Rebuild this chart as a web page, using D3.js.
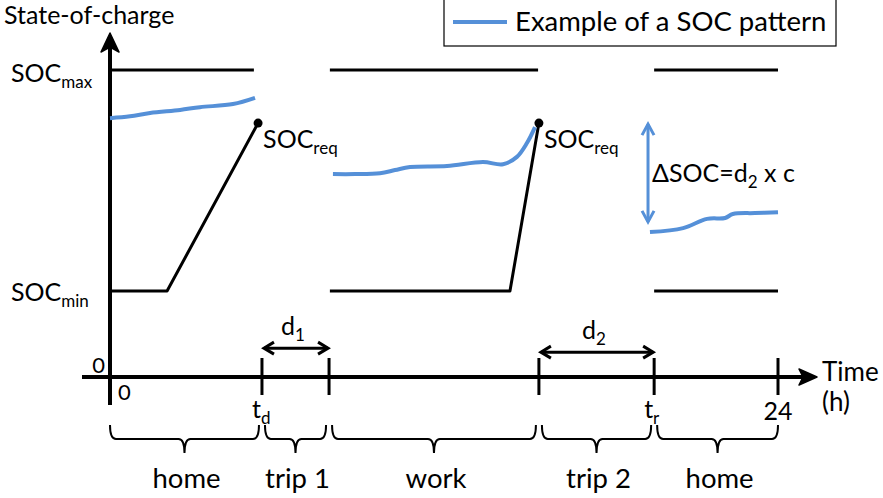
<!DOCTYPE html>
<html>
<head>
<meta charset="utf-8">
<script src="https://cdn.jsdelivr.net/npm/d3@7"></script>
<style>
  html, body { margin: 0; padding: 0; background: #fff; }
  svg { display: block; }
  text { font-family: Lato, "Open Sans", sans-serif; fill: #000; }
</style>
</head>
<body>
<svg id="chart" width="883" height="498"></svg>
<script>
// ---------------- DATA ----------------
// time boundaries of the day's activities (hours)
const tBounds = [0, 5.46, 7.87, 15.41, 19.55, 24];
const periods = ["home", "trip 1", "work", "trip 2", "home"];
// tick labels under the time axis
const tickLabels = [
  { t: 0, main: "0", sub: "" },
  { t: 5.46, main: "t", sub: "d" },
  { t: 19.55, main: "t", sub: "r" },
  { t: 24, main: "24", sub: "" }
];
// SOC levels (%)
const socMax = 100;
const socMin = 28;
const socReq = 82.7;
// SOCmax line segments (parked periods)
const maxSegments = [[0.07, 5.17], [7.90, 15.38], [19.55, 24]];
// Minimum-charging strategy paths [t, soc]
const minPath1 = [[0, 28], [2.05, 28], [5.32, 82.7]];
const minPath2 = [[7.90, 28], [14.37, 28], [15.41, 82.7]];
const minPath3 = [[19.55, 28], [24, 28]];
// SOC-required points
const reqPoints = [[5.32, 82.7], [15.41, 82.7]];
// Example SOC pattern (blue), three parked periods
const blue1 = [[0, 84.3], [0.72, 84.9], [1.44, 86.0], [2.52, 87.0], [3.23, 87.9], [4.42, 88.9], [5.21, 90.9]];
const blue2 = [[8.01, 66.1], [8.80, 66.1], [9.70, 66.4], [10.24, 67.4], [10.78, 68.4], [12.11, 68.7], [13.40, 70.0], [14.12, 69.3], [14.62, 71.7], [14.98, 76.2], [15.27, 81.4]];
const blue3 = [[19.40, 47.2], [20.59, 48.5], [21.45, 51.5], [22.10, 51.8], [22.38, 53.1], [23.17, 53.4], [24, 53.7]];
// ΔSOC arrow (t, from soc, to soc)
const deltaArrow = [19.33, 82.7, 50.2];
// trip distance arrows
const tripArrows = [
  { from: 5.46, to: 7.87, level: 9.4, main: "d", sub: "1" },
  { from: 15.41, to: 19.55, level: 8.1, main: "d", sub: "2" }
];

// ---------------- DRAW ----------------
const svg = d3.select("#chart");
const x = d3.scaleLinear().domain([0, 24]).range([110, 778]);
const y = d3.scaleLinear().domain([0, 100]).range([377, 70]);
const blue = "#5590d8";

const line = d3.line().x(d => x(d[0])).y(d => y(d[1]));
const smooth = d3.line().x(d => x(d[0])).y(d => y(d[1])).curve(d3.curveCatmullRom.alpha(0.5));

// helper for text with subscript
function subText(g, px, py, main, sub, size, subSize, anchor) {
  const t = g.append("text").attr("x", px).attr("y", py)
    .attr("font-size", size).attr("text-anchor", anchor || "start");
  t.append("tspan").text(main);
  if (sub) t.append("tspan").attr("font-size", subSize).attr("dy", size * 0.25).text(sub);
  return t;
}

// axes
const x0 = x(0), y0 = y(0);
svg.append("line").attr("x1", x0).attr("x2", x0).attr("y1", 46).attr("y2", 405)
  .attr("stroke", "#000").attr("stroke-width", 4);
svg.append("path").attr("d", `M${x0},33 L${x0 + 9},52 L${x0},47 L${x0 - 9},52 Z`).attr("fill", "#000")
  .attr("stroke", "#000").attr("stroke-width", 1.5).attr("stroke-linejoin", "round");
svg.append("line").attr("x1", 82).attr("x2", 806).attr("y1", y0).attr("y2", y0)
  .attr("stroke", "#000").attr("stroke-width", 4);
svg.append("path").attr("d", `M817,${y0} L799,${y0 - 8} L803,${y0} L799,${y0 + 8} Z`).attr("fill", "#000")
  .attr("stroke", "#000").attr("stroke-width", 1.5).attr("stroke-linejoin", "round");

// ticks at boundaries
svg.selectAll(".tick").data(tBounds.slice(1)).join("line")
  .attr("x1", d => x(d)).attr("x2", d => x(d)).attr("y1", y0 - 19).attr("y2", y0 + 18)
  .attr("stroke", "#000").attr("stroke-width", 3);

// SOCmax lines
svg.selectAll(".maxseg").data(maxSegments).join("line")
  .attr("x1", d => x(d[0])).attr("x2", d => x(d[1]))
  .attr("y1", y(socMax)).attr("y2", y(socMax))
  .attr("stroke", "#000").attr("stroke-width", 3);

// SOCmin / charging paths
svg.selectAll(".minpath").data([minPath1, minPath2, minPath3]).join("path")
  .attr("d", line).attr("fill", "none").attr("stroke", "#000").attr("stroke-width", 3)
  .attr("stroke-linejoin", "round");

// blue example
svg.selectAll(".bluepath").data([blue1, blue2, blue3]).join("path")
  .attr("d", smooth).attr("fill", "none").attr("stroke", blue).attr("stroke-width", 4);

// required points
svg.selectAll(".req").data(reqPoints).join("circle")
  .attr("cx", d => x(d[0])).attr("cy", d => y(d[1])).attr("r", 4.5).attr("fill", "#000");

// ΔSOC arrow
const dax = x(deltaArrow[0]), day1 = y(deltaArrow[1]), day2 = y(deltaArrow[2]);
svg.append("line").attr("x1", dax).attr("x2", dax).attr("y1", day1 + 1).attr("y2", day2 - 1)
  .attr("stroke", blue).attr("stroke-width", 3);
svg.append("path").attr("d", `M${dax - 6},${day1 + 12} L${dax},${day1 + 1} L${dax + 6},${day1 + 12} M${dax - 6},${day2 - 12} L${dax},${day2 - 1} L${dax + 6},${day2 - 12}`)
  .attr("fill", "none").attr("stroke", blue).attr("stroke-width", 3);

// trip arrows
tripArrows.forEach(a => {
  const xa = x(a.from) + 2, xb = x(a.to) - 1, ya = y(a.level);
  svg.append("line").attr("x1", xa).attr("x2", xb).attr("y1", ya).attr("y2", ya)
    .attr("stroke", "#000").attr("stroke-width", 3);
  svg.append("path").attr("d", `M${xa + 10},${ya - 6} L${xa},${ya} L${xa + 10},${ya + 6} M${xb - 10},${ya - 6} L${xb},${ya} L${xb - 10},${ya + 6}`)
    .attr("fill", "none").attr("stroke", "#000").attr("stroke-width", 3);
  subText(svg, (xa + xb) / 2 - 3, ya - 13, a.main, a.sub, 25, 17, "middle");
});

// braces
const braceTop = 425, braceMid = 439, braceTip = 453, r = 6;
for (let i = 0; i < periods.length; i++) {
  const a = x(tBounds[i]) + (i === 0 ? 0 : 3), b = x(tBounds[i + 1]) - (i === periods.length - 1 ? 0 : 3);
  const m = (a + b) / 2;
  const p = `M${a},${braceTop} Q${a},${braceMid} ${a + r},${braceMid} L${m - r},${braceMid} Q${m},${braceMid} ${m},${braceTip} Q${m},${braceMid} ${m + r},${braceMid} L${b - r},${braceMid} Q${b},${braceMid} ${b},${braceTop}`;
  svg.append("path").attr("d", p).attr("fill", "none").attr("stroke", "#000").attr("stroke-width", 2);
  svg.append("text").attr("x", m + 2).attr("y", 488).attr("text-anchor", "middle").attr("font-size", 27.5).text(periods[i]);
}

// tick labels
tickLabels.forEach(d => {
  if (d.t === 0) {
    svg.append("text").attr("x", x(0) + 8).attr("y", 400).attr("font-size", 22).text(d.main);
  } else if (d.sub) {
    subText(svg, x(d.t) - 10, 418, d.main, d.sub, 25, 17, "start");
  } else {
    svg.append("text").attr("x", x(d.t)).attr("y", 420).attr("text-anchor", "middle").attr("font-size", 25).text(d.main);
  }
});
// y-axis zero
svg.append("text").attr("x", 105).attr("y", 373).attr("text-anchor", "end").attr("font-size", 22).text("0");

// axis titles
svg.append("text").attr("x", 4).attr("y", 24).attr("font-size", 25).text("State-of-charge");
svg.append("text").attr("x", 822).attr("y", 381).attr("font-size", 26).text("Time");
svg.append("text").attr("x", 822).attr("y", 411).attr("font-size", 26).text("(h)");

// SOC level labels
subText(svg, 11, 82, "SOC", "max", 25, 17, "start");
subText(svg, 11, 301, "SOC", "min", 25, 17, "start");
reqPoints.forEach(d => subText(svg, x(d[0]) + 5, y(d[1]) + 25, "SOC", "req", 25, 17, "start"));

// ΔSOC label
subText(svg, dax + 4, 182, "ΔSOC=d", "2", 25, 17, "start").append("tspan").attr("dy", -25 * 0.25).text(" x c");

// legend
const lg = svg.append("g");
lg.append("rect").attr("x", 444).attr("y", -1).attr("width", 392).attr("height", 47)
  .attr("fill", "#fff").attr("stroke", "#000").attr("stroke-width", 1.2);
lg.append("line").attr("x1", 453).attr("x2", 507).attr("y1", 22).attr("y2", 22)
  .attr("stroke", blue).attr("stroke-width", 4);
lg.append("text").attr("x", 515).attr("y", 31).attr("font-size", 27.5).text("Example of a SOC pattern");
</script>
</body>
</html>
